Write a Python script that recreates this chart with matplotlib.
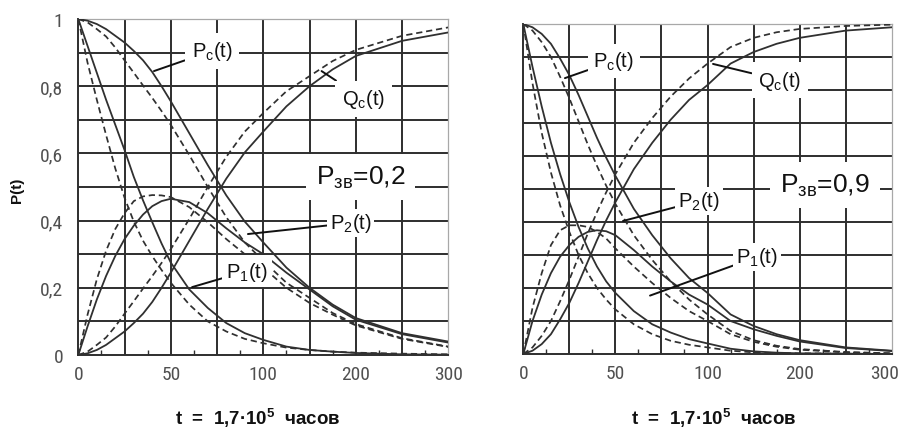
import numpy as np
import matplotlib
matplotlib.use("Agg")
import matplotlib.pyplot as plt
from matplotlib import font_manager
from matplotlib.transforms import ScaledTranslation

# ---------------- data ----------------
t = [0, 5, 10, 15, 20, 25, 30, 35, 40, 45, 50, 60, 70, 80, 90, 100, 125, 150, 175, 200, 250, 300]

# P_зв = 0.2 (left panel) - solid curves
pc_02 = [1.000, 0.995, 0.985, 0.970, 0.950, 0.930, 0.905, 0.877, 0.842, 0.800, 0.755, 0.660, 0.565, 0.475, 0.397, 0.335, 0.260, 0.200, 0.150, 0.110, 0.065, 0.040]
qc_02 = [0.000, 0.005, 0.015, 0.030, 0.050, 0.070, 0.095, 0.123, 0.158, 0.200, 0.245, 0.340, 0.435, 0.525, 0.603, 0.665, 0.740, 0.800, 0.850, 0.890, 0.935, 0.960]
p1_02 = [1.000, 0.920, 0.840, 0.760, 0.685, 0.610, 0.530, 0.460, 0.395, 0.332, 0.275, 0.195, 0.140, 0.095, 0.065, 0.045, 0.025, 0.015, 0.010, 0.006, 0.002, 0.001]
p2_02 = [0.000, 0.085, 0.165, 0.235, 0.295, 0.345, 0.385, 0.418, 0.443, 0.458, 0.465, 0.455, 0.422, 0.377, 0.335, 0.300, 0.245, 0.195, 0.145, 0.105, 0.062, 0.037]
# P_зв = 0.2 - dashed curves
pcd_02 = [1.000, 0.990, 0.970, 0.948, 0.915, 0.877, 0.840, 0.802, 0.765, 0.726, 0.685, 0.595, 0.500, 0.410, 0.335, 0.280, 0.215, 0.170, 0.125, 0.092, 0.050, 0.025]
qcd_02 = [0.000, 0.010, 0.030, 0.052, 0.085, 0.123, 0.160, 0.198, 0.235, 0.274, 0.315, 0.405, 0.500, 0.590, 0.665, 0.720, 0.785, 0.830, 0.875, 0.908, 0.950, 0.975]
p1d_02 = [1.000, 0.870, 0.760, 0.655, 0.555, 0.468, 0.397, 0.340, 0.294, 0.253, 0.215, 0.150, 0.100, 0.070, 0.048, 0.035, 0.022, 0.015, 0.010, 0.007, 0.004, 0.002]
p2d_02 = [0.000, 0.120, 0.225, 0.310, 0.375, 0.422, 0.458, 0.472, 0.476, 0.475, 0.470, 0.440, 0.395, 0.345, 0.300, 0.260, 0.200, 0.155, 0.120, 0.088, 0.048, 0.024]

# P_зв = 0.9 (right panel) - solid curves
pc_09 = [1.000, 0.990, 0.970, 0.940, 0.895, 0.845, 0.785, 0.720, 0.655, 0.595, 0.540, 0.440, 0.360, 0.290, 0.230, 0.185, 0.120, 0.085, 0.060, 0.042, 0.020, 0.010]
qc_09 = [0.000, 0.010, 0.030, 0.060, 0.105, 0.155, 0.215, 0.280, 0.345, 0.405, 0.460, 0.560, 0.640, 0.710, 0.770, 0.815, 0.880, 0.915, 0.940, 0.958, 0.980, 0.990]
p1_09 = [1.000, 0.870, 0.750, 0.640, 0.545, 0.460, 0.385, 0.320, 0.265, 0.220, 0.185, 0.130, 0.090, 0.065, 0.045, 0.032, 0.016, 0.008, 0.004, 0.002, 0.001, 0.000]
p2_09 = [0.000, 0.100, 0.180, 0.245, 0.295, 0.330, 0.355, 0.370, 0.375, 0.372, 0.360, 0.315, 0.265, 0.220, 0.180, 0.150, 0.100, 0.075, 0.055, 0.038, 0.018, 0.009]
# P_зв = 0.9 - dashed curves
pcd_09 = [1.000, 0.980, 0.945, 0.900, 0.840, 0.775, 0.705, 0.635, 0.570, 0.510, 0.455, 0.360, 0.285, 0.220, 0.165, 0.120, 0.070, 0.042, 0.025, 0.015, 0.006, 0.002]
qcd_09 = [0.000, 0.020, 0.055, 0.100, 0.160, 0.225, 0.295, 0.365, 0.430, 0.490, 0.545, 0.640, 0.715, 0.780, 0.835, 0.880, 0.930, 0.958, 0.975, 0.985, 0.994, 0.998]
p1d_09 = [1.000, 0.820, 0.670, 0.550, 0.450, 0.370, 0.300, 0.245, 0.200, 0.165, 0.135, 0.090, 0.060, 0.040, 0.028, 0.020, 0.010, 0.005, 0.003, 0.002, 0.001, 0.000]
p2d_09 = [0.000, 0.140, 0.245, 0.330, 0.375, 0.390, 0.390, 0.385, 0.370, 0.350, 0.320, 0.265, 0.215, 0.170, 0.130, 0.100, 0.060, 0.037, 0.022, 0.013, 0.005, 0.002]

x_ticks = [0, 50, 100, 200, 300]
x_ticklabels = ["0", "50", "100", "200", "300"]
y_ticks = [0, 0.2, 0.4, 0.6, 0.8, 1.0]
y_ticklabels = ["0", "0,2", "0,4", "0,6", "0,8", "1"]
x_grid = [25, 50, 75, 100, 150, 200, 250]
y_grid = [0.1, 0.2, 0.3, 0.4, 0.5, 0.6, 0.7, 0.8, 0.9]
x_minor = [12.5, 37.5, 62.5, 87.5, 125, 175, 225, 275]

x_label = "t  =  1,7·10$^{\\mathbf{5}}$  часов"
y_label = "P(t)"

# ---------------- fonts ----------------
names = {f.name for f in font_manager.fontManager.ttflist}
TICK_FONT, TICK_SIZE = "Liberation Sans", 12.5
for cand, size in (("Liberation Sans Narrow", 14), ("DejaVu Sans Condensed", 12.5),
                   ("Roboto Condensed", 14), ("Open Sans Condensed", 14)):
    if cand in names:
        TICK_FONT, TICK_SIZE = cand, size
        break

plt.rcParams["font.family"] = ["Liberation Sans", "DejaVu Sans"]
plt.rcParams["mathtext.fontset"] = "custom"
plt.rcParams["mathtext.rm"] = "Liberation Sans"
plt.rcParams["mathtext.it"] = "Liberation Sans:italic"
plt.rcParams["mathtext.bf"] = "Liberation Sans:bold"
plt.rcParams["mathtext.sf"] = "Liberation Sans"


def fwd(x):
    x = np.asarray(x, dtype=float)
    return np.where(x <= 100, x / 25.0, 4.0 + (x - 100.0) / 50.0)


def inv(u):
    u = np.asarray(u, dtype=float)
    return np.where(u <= 4, u * 25.0, 100.0 + (u - 4.0) * 50.0)


W, H = 901, 431
fig = plt.figure(figsize=(W / 100, H / 100), dpi=100)

LINE_C = "#303030"
GRID_C = "#2e2e2e"
TICK_C = "#505050"


def make_axes(rect, show_y, shift_last):
    ax = fig.add_axes(rect)
    ax.set_xscale("function", functions=(fwd, inv))
    ax.set_xlim(0, 300)
    ax.set_ylim(0, 1)
    for xv in x_grid:
        ax.axvline(xv, color=GRID_C, lw=1.4, zorder=1)
    for yv in y_grid:
        ax.axhline(yv, color=GRID_C, lw=1.4, zorder=1)
    for s in ("left", "bottom"):
        ax.spines[s].set_color(GRID_C)
        ax.spines[s].set_linewidth(1.4)
    for s in ("top", "right"):
        ax.spines[s].set_color("#a8a8a8")
        ax.spines[s].set_linewidth(0.9)
    ax.set_xticks(x_ticks, x_ticklabels, fontfamily=TICK_FONT, fontsize=TICK_SIZE, color=TICK_C)
    ax.set_xticks(x_minor, minor=True)
    ax.tick_params(axis="x", which="major", length=0, pad=7)
    ax.tick_params(axis="x", which="minor", direction="in", length=3.5, width=1.0, color=GRID_C)
    if show_y:
        ax.set_yticks(y_ticks, y_ticklabels, fontfamily=TICK_FONT, fontsize=TICK_SIZE, color=TICK_C)
        ax.tick_params(axis="y", which="major", length=0, pad=11)
    else:
        ax.set_yticks([])
    if shift_last:
        # the last x label of the right panel sits inside the figure edge
        last = ax.get_xticklabels()[-1]
        last.set_horizontalalignment("right")
        last.set_transform(last.get_transform() + ScaledTranslation(5 / 72, 0, fig.dpi_scale_trans))
    ax.set_facecolor("white")
    return ax


def draw_curves(ax, solid, dashed):
    for ys in solid:
        ax.plot(t, ys, color=LINE_C, lw=1.3, zorder=3)
    for ys in dashed:
        ax.plot(t, ys, color=LINE_C, lw=1.25, dashes=(3.6, 2.2), zorder=3)


def label(ax, text, xy_text, xy_tip=None, pad=3, size=14.5):
    bbox = dict(facecolor="white", edgecolor="none", pad=pad)
    if xy_tip is None:
        ax.text(xy_text[0], xy_text[1], text, ha="center", va="center",
                fontsize=size, color="#111111", bbox=bbox, zorder=6)
    else:
        ax.annotate(text, xy=xy_tip, xytext=xy_text, ha="center", va="center",
                    fontsize=size, color="#111111", bbox=bbox, zorder=6,
                    arrowprops=dict(arrowstyle="-", color="#111111", lw=1.4,
                                    shrinkA=0, shrinkB=0))


# left panel
axL = make_axes([78.3 / W, 1 - 356 / H, 370 / W, 336 / H], True, False)
draw_curves(axL, [pc_02, qc_02, p1_02, p2_02], [pcd_02, qcd_02, p1d_02, p2d_02])
label(axL, "P$_\\mathrm{c}$(t)", (72.3, 0.905), (40.9, 0.845), pad=5)
label(axL, "Q$_\\mathrm{c}$(t)", (208.7, 0.762), (163, 0.845), pad=5)
label(axL, "P$_\\mathrm{2}$(t)", (194.6, 0.393), (91.7, 0.36), pad=2)
label(axL, "P$_\\mathrm{1}$(t)", (91.2, 0.25), (61.5, 0.202), pad=3)
label(axL, "P$_\\mathrm{зв}$=0,2", (205.4, 0.53), None, pad=7, size=19)

# right panel
axR = make_axes([523.3 / W, 1 - 355 / H, 368.4 / W, 330 / H], False, True)
draw_curves(axR, [pc_09, qc_09, p1_09, p2_09], [pcd_09, qcd_09, p1d_09, p2d_09])
label(axR, "P$_\\mathrm{c}$(t)", (49.2, 0.888), (22.6, 0.836), pad=4)
label(axR, "Q$_\\mathrm{c}$(t)", (178.7, 0.83), (106, 0.879), pad=5)
label(axR, "P$_\\mathrm{2}$(t)", (95.4, 0.464), (54.1, 0.403), pad=2)
label(axR, "P$_\\mathrm{1}$(t)", (153.7, 0.294), (68.8, 0.177), pad=2)
label(axR, "P$_\\mathrm{зв}$=0,9", (227.6, 0.512), None, pad=7, size=19)

# axis titles
fig.text(17 / W, 1 - 190 / H, y_label, rotation=90, ha="center", va="center",
         fontsize=11, fontweight="bold", color="#111111")
fig.text(258 / W, 1 - 418 / H, x_label, ha="center", va="center",
         fontsize=13.5, fontweight="bold", color="#111111")
fig.text(714 / W, 1 - 418 / H, x_label, ha="center", va="center",
         fontsize=13.5, fontweight="bold", color="#111111")

fig.savefig("out.png", dpi=100, facecolor="white")
